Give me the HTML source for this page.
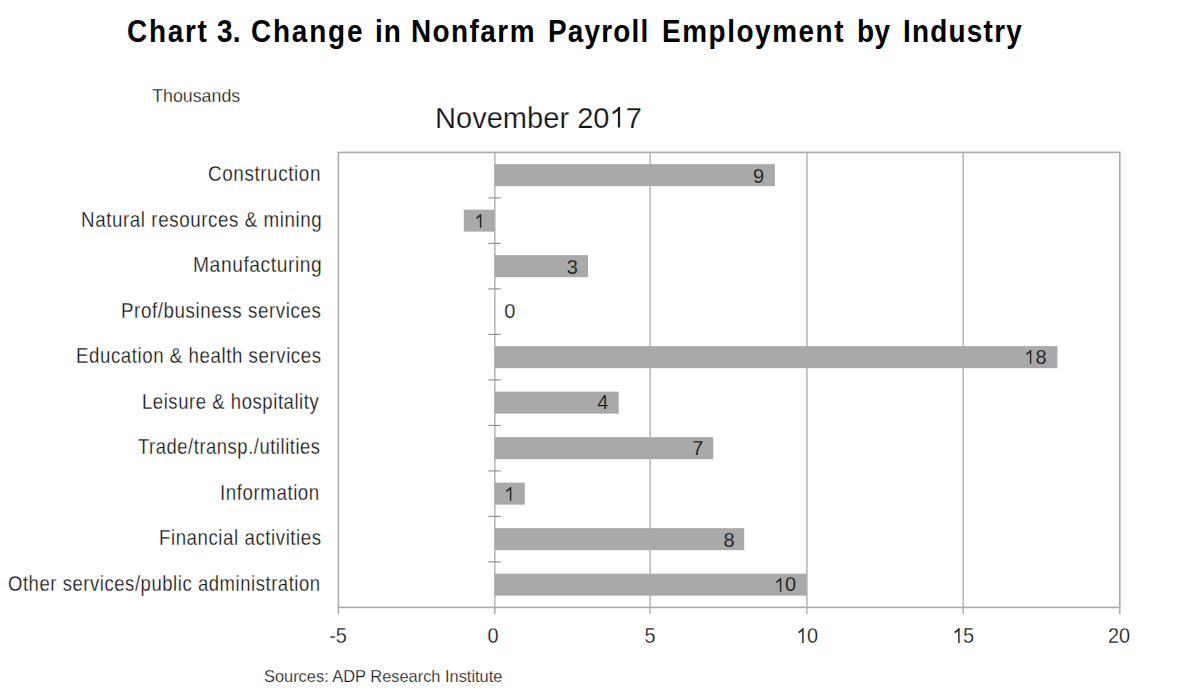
<!DOCTYPE html>
<html><head><meta charset="utf-8">
<style>
html,body{margin:0;padding:0;background:#fff;}
body{width:1183px;height:698px;position:relative;overflow:hidden;font-family:"Liberation Sans",sans-serif;color:#111;}
.erg{-webkit-text-stroke:0.25px #a9a9a9;}
.er{-webkit-text-stroke:0.25px #fff;paint-order:normal;}
.t{position:absolute;white-space:pre;line-height:1;}
.tw{position:absolute;top:15.7px;font-size:31px;font-weight:bold;color:#000;white-space:pre;line-height:1;transform:scaleX(0.90);transform-origin:0 0;}
#thousands{left:152.2px;top:88px;font-size:17.8px;transform:scale(1,1.03);transform-origin:0 14px;}
#nov{left:435.1px;top:102.9px;font-size:30px;transform:scale(0.969,1);transform-origin:0 0;}
.lab{position:absolute;font-size:20px;white-space:pre;line-height:1;transform-origin:0 17px;}
.dl{position:absolute;font-size:20px;white-space:pre;line-height:1;}
.ax{position:absolute;font-size:20.5px;white-space:pre;line-height:1;top:625.5px;width:60px;text-align:center;transform:scale(0.97,1.07);transform-origin:50% 16.4px;}
#src{left:264px;top:667.7px;font-size:16.4px;}
</style></head><body>
<svg width="1183" height="698" viewBox="0 0 1183 698" style="position:absolute;left:0;top:0">
<line x1="650.10" y1="152.4" x2="650.10" y2="613.9" stroke="#b9b9b9" stroke-width="1.6"/>
<line x1="806.90" y1="152.4" x2="806.90" y2="613.9" stroke="#b9b9b9" stroke-width="1.6"/>
<line x1="963.20" y1="152.4" x2="963.20" y2="613.9" stroke="#b9b9b9" stroke-width="1.6"/>
<line x1="338.40" y1="607.4" x2="338.40" y2="613.9" stroke="#ababab" stroke-width="1.6"/>
<line x1="494.80" y1="607.4" x2="494.80" y2="613.9" stroke="#ababab" stroke-width="1.6"/>
<line x1="1119.80" y1="607.4" x2="1119.80" y2="613.9" stroke="#ababab" stroke-width="1.6"/>
<line x1="494.8" y1="152.4" x2="494.8" y2="607.4" stroke="#b9b9b9" stroke-width="1.6"/>
<rect x="494.60" y="164.15" width="280.30" height="22" fill="#a9a9a9"/>
<rect x="463.80" y="209.65" width="30.80" height="22" fill="#a9a9a9"/>
<rect x="494.60" y="255.15" width="93.40" height="22" fill="#a9a9a9"/>
<rect x="494.60" y="346.15" width="562.80" height="22" fill="#a9a9a9"/>
<rect x="494.60" y="391.65" width="124.10" height="22" fill="#a9a9a9"/>
<rect x="494.60" y="437.15" width="218.60" height="22" fill="#a9a9a9"/>
<rect x="494.60" y="482.65" width="30.20" height="22" fill="#a9a9a9"/>
<rect x="494.60" y="528.15" width="249.60" height="22" fill="#a9a9a9"/>
<rect x="494.60" y="573.65" width="312.20" height="22" fill="#a9a9a9"/>
<line x1="488.3" y1="197.90" x2="500.8" y2="197.90" stroke="#8c8c8c" stroke-width="1.1"/>
<line x1="488.3" y1="243.40" x2="500.8" y2="243.40" stroke="#8c8c8c" stroke-width="1.1"/>
<line x1="488.3" y1="288.90" x2="500.8" y2="288.90" stroke="#8c8c8c" stroke-width="1.1"/>
<line x1="488.3" y1="334.40" x2="500.8" y2="334.40" stroke="#8c8c8c" stroke-width="1.1"/>
<line x1="488.3" y1="379.90" x2="500.8" y2="379.90" stroke="#8c8c8c" stroke-width="1.1"/>
<line x1="488.3" y1="425.40" x2="500.8" y2="425.40" stroke="#8c8c8c" stroke-width="1.1"/>
<line x1="488.3" y1="470.90" x2="500.8" y2="470.90" stroke="#8c8c8c" stroke-width="1.1"/>
<line x1="488.3" y1="516.40" x2="500.8" y2="516.40" stroke="#8c8c8c" stroke-width="1.1"/>
<line x1="488.3" y1="561.90" x2="500.8" y2="561.90" stroke="#8c8c8c" stroke-width="1.1"/>
<rect x="338.4" y="152.4" width="781.40" height="455.0" fill="none" stroke="#ababab" stroke-width="1.6"/>
</svg>
<div class="tw" style="left:127.28px;letter-spacing:1.94px">Chart</div>
<div class="tw" style="left:217.32px;letter-spacing:0.22px">3.</div>
<div class="tw" style="left:251.08px;letter-spacing:2.02px">Change</div>
<div class="tw" style="left:375.18px;letter-spacing:1.17px">in</div>
<div class="tw" style="left:410.90px;letter-spacing:1.62px">Nonfarm</div>
<div class="tw" style="left:547.90px;letter-spacing:1.35px">Payroll</div>
<div class="tw" style="left:661.60px;letter-spacing:1.74px">Employment</div>
<div class="tw" style="left:856.90px;letter-spacing:0.56px">by</div>
<div class="tw" style="left:902.50px;letter-spacing:1.38px">Industry</div>
<div class="t er" id="thousands">Thousands</div>
<div class="t er" id="nov">November 20<svg viewBox="0 0 1139 1430" preserveAspectRatio="none" style="width:0.5562em;height:0.685em;vertical-align:baseline;overflow:visible"><path fill="#1a1a1a" transform="matrix(1 0 0 -1 0 1430)" d="M753 0H597V1147C518 1085 433 1023 328 970C283 947 251 935 223 926V1100C375 1171 489 1266 565 1349C610 1398 636 1437 647 1430H753Z"/></svg>7</div>
<div class="lab er" style="left:208.35px;top:164.42px;letter-spacing:0.6px;transform:scale(0.9459,1.08)">Construction</div>
<div class="lab er" style="left:81.06px;top:209.92px;letter-spacing:0.6px;transform:scale(0.9398,1.08)">Natural resources &amp; mining</div>
<div class="lab er" style="left:193.02px;top:255.42px;letter-spacing:0.6px;transform:scale(0.9618,1.08)">Manufacturing</div>
<div class="lab er" style="left:121.46px;top:300.92px;letter-spacing:0.6px;transform:scale(0.9394,1.08)">Prof/business services</div>
<div class="lab er" style="left:76.17px;top:346.42px;letter-spacing:0.6px;transform:scale(0.9338,1.08)">Education &amp; health services</div>
<div class="lab er" style="left:142.18px;top:391.92px;letter-spacing:0.6px;transform:scale(0.9252,1.08)">Leisure &amp; hospitality</div>
<div class="lab er" style="left:138.44px;top:437.42px;letter-spacing:0.6px;transform:scale(0.9189,1.08)">Trade/transp./utilities</div>
<div class="lab er" style="left:220.46px;top:482.92px;letter-spacing:0.6px;transform:scale(0.9359,1.08)">Information</div>
<div class="lab er" style="left:158.97px;top:528.42px;letter-spacing:0.6px;transform:scale(0.9331,1.08)">Financial activities</div>
<div class="lab er" style="left:7.58px;top:573.92px;letter-spacing:0.6px;transform:scale(0.9240,1.08)">Other services/public administration</div>
<div class="dl erg" id="dl0" style="top:165.62px;left:753.12px">9</div>
<div class="dl erg" id="dl1" style="top:211.12px;left:473.88px"><svg viewBox="0 0 1139 1430" preserveAspectRatio="none" style="width:0.5562em;height:0.685em;vertical-align:baseline;overflow:visible"><path fill="#2a2a2a" transform="matrix(1 0 0 -1 0 1430)" d="M753 0H597V1147C518 1085 433 1023 328 970C283 947 251 935 223 926V1100C375 1171 489 1266 565 1349C610 1398 636 1437 647 1430H753Z"/></svg></div>
<div class="dl erg" id="dl2" style="top:256.70px;left:566.80px">3</div>
<div class="dl er" id="dl3" style="top:300.88px;left:504.32px">0</div>
<div class="dl erg" id="dl4" style="top:346.98px;left:1024.28px"><svg viewBox="0 0 1139 1430" preserveAspectRatio="none" style="width:0.5562em;height:0.685em;vertical-align:baseline;overflow:visible"><path fill="#2a2a2a" transform="matrix(1 0 0 -1 0 1430)" d="M753 0H597V1147C518 1085 433 1023 328 970C283 947 251 935 223 926V1100C375 1171 489 1266 565 1349C610 1398 636 1437 647 1430H753Z"/></svg>8</div>
<div class="dl erg" id="dl5" style="top:392.16px;left:597.28px">4</div>
<div class="dl erg" id="dl6" style="top:438.06px;left:692.28px">7</div>
<div class="dl erg" id="dl7" style="top:483.64px;left:504.12px"><svg viewBox="0 0 1139 1430" preserveAspectRatio="none" style="width:0.5562em;height:0.685em;vertical-align:baseline;overflow:visible"><path fill="#2a2a2a" transform="matrix(1 0 0 -1 0 1430)" d="M753 0H597V1147C518 1085 433 1023 328 970C283 947 251 935 223 926V1100C375 1171 489 1266 565 1349C610 1398 636 1437 647 1430H753Z"/></svg></div>
<div class="dl erg" id="dl8" style="top:529.50px;left:723.40px">8</div>
<div class="dl erg" id="dl9" style="top:574.48px;left:774.00px"><svg viewBox="0 0 1139 1430" preserveAspectRatio="none" style="width:0.5562em;height:0.685em;vertical-align:baseline;overflow:visible"><path fill="#2a2a2a" transform="matrix(1 0 0 -1 0 1430)" d="M753 0H597V1147C518 1085 433 1023 328 970C283 947 251 935 223 926V1100C375 1171 489 1266 565 1349C610 1398 636 1437 647 1430H753Z"/></svg>0</div>
<div class="ax er" style="left:307.90px">-5</div>
<div class="ax er" style="left:463.40px">0</div>
<div class="ax er" style="left:620.35px">5</div>
<div class="ax er" style="left:776.90px"><svg viewBox="0 0 1139 1430" preserveAspectRatio="none" style="width:0.5562em;height:0.685em;vertical-align:baseline;overflow:visible"><path fill="#2a2a2a" transform="matrix(1 0 0 -1 0 1430)" d="M753 0H597V1147C518 1085 433 1023 328 970C283 947 251 935 223 926V1100C375 1171 489 1266 565 1349C610 1398 636 1437 647 1430H753Z"/></svg>0</div>
<div class="ax er" style="left:932.70px"><svg viewBox="0 0 1139 1430" preserveAspectRatio="none" style="width:0.5562em;height:0.685em;vertical-align:baseline;overflow:visible"><path fill="#2a2a2a" transform="matrix(1 0 0 -1 0 1430)" d="M753 0H597V1147C518 1085 433 1023 328 970C283 947 251 935 223 926V1100C375 1171 489 1266 565 1349C610 1398 636 1437 647 1430H753Z"/></svg>5</div>
<div class="ax er" style="left:1088.70px">20</div>
<div class="t er" id="src">Sources: ADP Research Institute</div>
</body></html>
